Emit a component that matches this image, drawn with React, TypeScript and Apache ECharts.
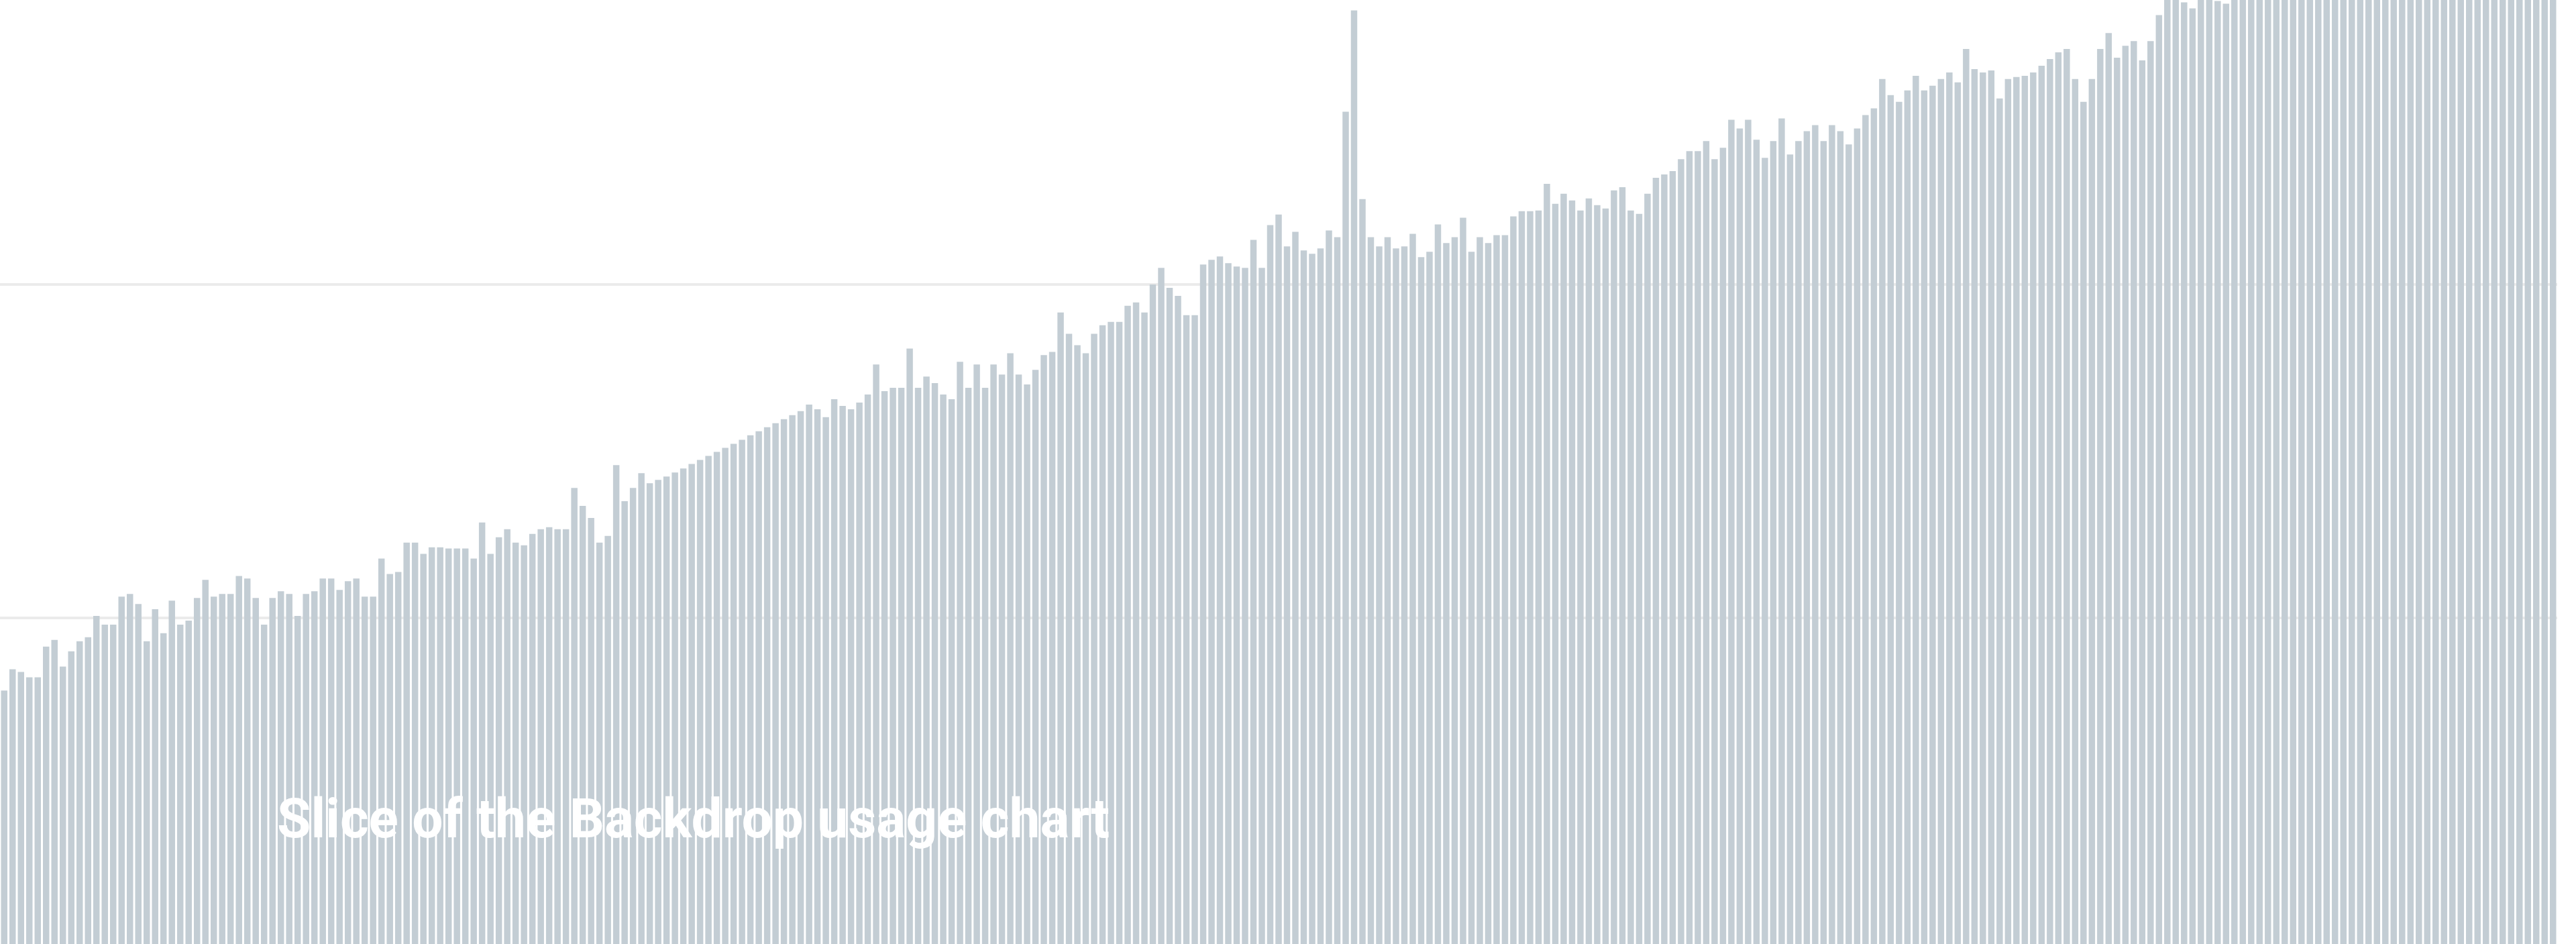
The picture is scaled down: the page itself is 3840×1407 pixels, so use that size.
import React, { useEffect, useRef } from "react";
import * as echarts from "echarts";

// Daily usage values (relative units; gridlines at 50 and 100)
const usageStart: number[] = [
  39.1, 42.3, 41.9, 41.1, 41.1, 45.7, 46.7, 42.7, 45.0, 46.5, 47.1, 50.3, 49.0, 49.0, 53.2, 53.6,
  52.1, 46.5, 51.3, 47.7, 52.6, 49.0, 49.6, 53.0, 55.7, 53.2, 53.6, 53.6, 56.3, 55.9, 53.0, 49.0,
  53.0, 54.0, 53.6, 50.3, 53.6, 54.0, 55.9, 55.9, 54.2, 55.5, 55.9, 53.2, 53.2, 58.9, 56.6,
];
const usageEarly: number[] = [
  56.9, 61.3, 61.3, 59.6, 60.6, 60.6, 60.4, 60.4, 60.4, 58.9, 64.3, 59.6, 62.1, 63.3, 61.3, 60.9,
  62.6, 63.3, 63.6, 63.3, 63.3, 69.5, 66.8, 65.0, 61.3, 62.3, 72.9, 67.5, 69.5, 71.7,
];
const usageRamp: number[] = [
  70.2, 70.7, 71.2, 71.8, 72.4, 73.1, 73.7, 74.3, 74.9, 75.5, 76.1, 76.7, 77.4, 78.0, 78.6, 79.2,
  79.8, 80.4, 81.0, 82.0,
];
const usageMiddle: number[] = [
  81.3, 80.1, 82.8, 81.8, 81.3, 82.3, 83.5, 88.0, 84.0, 84.5, 84.5, 90.4, 84.5, 86.2, 85.2, 83.5,
  82.8, 88.4, 84.5, 88.0, 84.5, 88.0, 86.5, 89.7, 86.5, 85.0, 87.2, 89.4, 89.9, 95.8, 92.6, 90.9,
  89.7, 92.6, 93.9, 94.4, 94.4, 96.8, 97.3, 95.8, 100.0, 102.5, 99.5, 98.3, 95.4, 95.4, 103.0, 103.7,
  104.2, 103.2, 102.7, 102.5, 106.7, 102.5, 108.9,
];
const usageSpike: number[] = [
  110.5, 105.7, 107.9, 105.1, 104.6, 105.4, 108.1, 107.1, 125.9, 141.1, 112.8, 107.1, 105.7, 107.1,
  105.4, 105.7, 107.6, 104.1, 104.9, 109.0, 106.2, 107.1, 110.0, 104.9, 107.1, 106.2, 107.4, 107.4,
  110.2, 111.0, 111.0,
];
const usageLate: number[] = [
  111.1, 115.1, 112.1, 113.6, 112.6, 111.1, 112.9, 111.9, 111.4, 114.1, 114.6, 111.1, 110.6, 113.6,
  116.0, 116.5, 117.0, 118.8, 120.0, 120.0, 121.5, 118.8, 120.5, 124.7, 123.4, 124.7, 121.7, 119.0,
  121.5, 124.9, 119.5, 121.5, 123.0, 123.9, 121.5, 123.9, 123.0, 121.0, 123.4, 125.4, 126.4,
];
const usageHigh: number[] = [
  130.8, 128.4, 127.4, 129.1, 131.3, 129.1, 129.8, 130.8, 131.8, 130.3, 135.3, 132.3, 131.8, 132.1,
  127.9, 130.8, 131.1, 131.3, 131.8, 132.8, 133.8, 134.8, 135.3, 130.8, 127.4, 130.8, 135.3, 137.7,
  134.0, 135.8, 136.5,
];
const usageTop: number[] = [
  133.6, 136.5, 140.4, 146, 147, 142.3, 141.4, 146, 148, 142.5, 142.1,
];
const usageBeyond: number[] = [
  147, 149, 146, 150, 148, 151, 149, 152, 150, 148, 151, 153, 150, 152, 154, 151, 153, 155, 152, 150,
  154, 156, 153, 155, 157, 154, 156, 158, 155, 153, 157, 159, 156, 158, 155, 157, 160, 158, 156,
];

const usage: number[] = [
  ...usageStart,
  ...usageEarly,
  ...usageRamp,
  ...usageMiddle,
  ...usageSpike,
  ...usageLate,
  ...usageHigh,
  ...usageTop,
  ...usageBeyond,
];
const days: string[] = usage.map((_, i) => `Day ${i + 1}`);
const yTicks: number[] = [0, 50, 100, 150];
const caption = "Slice of the Backdrop usage chart";

// The chart is a slice: the plot extends 73px above and 11px below the visible window.
const VIEW_W = 3840;
const VIEW_H = 1407;
const OVER_TOP = 73;
const OVER_BOTTOM = 11;

export default function App() {
  const ref = useRef<HTMLDivElement>(null);

  useEffect(() => {
    document.body.style.margin = "0";
    document.body.style.overflow = "hidden";
    document.documentElement.style.overflow = "hidden";
    const chart = echarts.init(ref.current!, undefined, { renderer: "svg" });
    chart.setOption({
      animation: false,
      backgroundColor: "#ffffff",
      grid: { left: 0, right: 28, top: 0, bottom: 0, containLabel: false },
      xAxis: {
        type: "category",
        data: days,
        axisLine: { show: false },
        axisTick: { show: false },
        axisLabel: { show: false },
        splitLine: { show: false },
      },
      yAxis: {
        type: "value",
        min: yTicks[0],
        max: yTicks[yTicks.length - 1],
        interval: yTicks[1] - yTicks[0],
        axisLine: { show: false },
        axisTick: { show: false },
        axisLabel: { show: false },
        splitLine: { show: true, lineStyle: { color: "#ebebeb", width: 4 } },
      },
      series: [
        {
          type: "bar",
          data: usage,
          barWidth: 9.5,
          clip: true,
          itemStyle: { color: "#c3cdd4" },
        },
      ],
      graphic: [
        {
          type: "text",
          left: 413,
          top: 1179 + OVER_TOP,
          z: 100,
          style: {
            text: caption,
            fill: "#ffffff",
            font: "bold 82px Roboto",
          },
        },
      ],
    });
    return () => chart.dispose();
  }, []);

  return (
    <div
      style={{
        position: "relative",
        width: VIEW_W,
        height: VIEW_H,
        overflow: "hidden",
      }}
    >
      <div
        ref={ref}
        style={{
          position: "absolute",
          left: 0,
          top: -OVER_TOP,
          width: VIEW_W,
          height: VIEW_H + OVER_TOP + OVER_BOTTOM,
        }}
      />
    </div>
  );
}
